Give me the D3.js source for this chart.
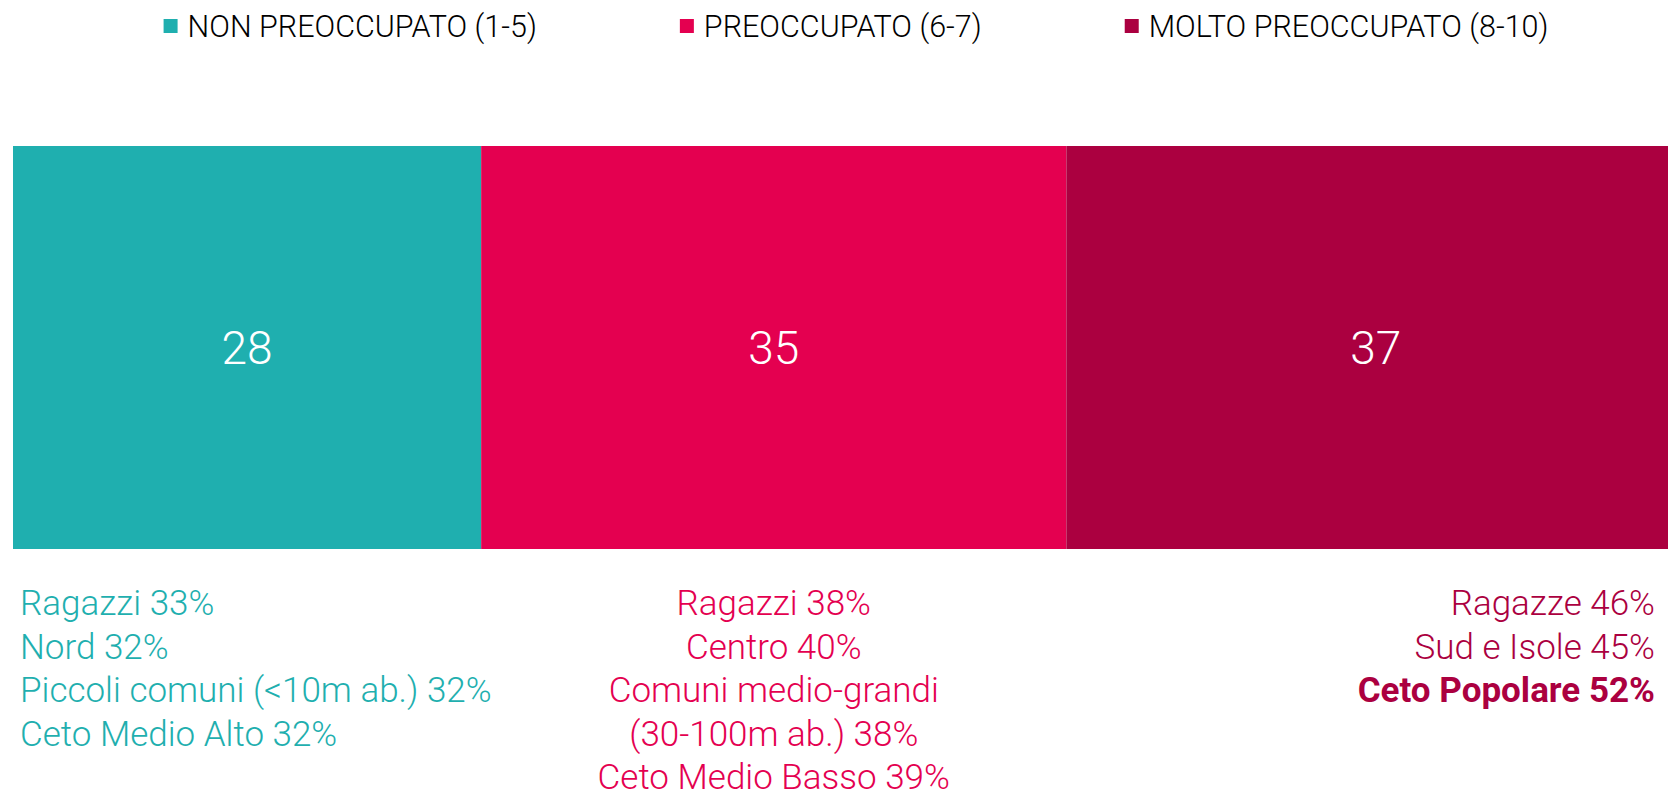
<!DOCTYPE html>
<html>
<head>
<meta charset="utf-8">
<script src="https://cdn.jsdelivr.net/npm/d3@7"></script>
<style>
  html, body { margin: 0; padding: 0; background: #fff; }
  svg { display: block; font-family: Roboto, "Noto Sans", sans-serif; }
</style>
</head>
<body>
<svg id="chart"></svg>
<script>
let width = 1668, height = 797;

// data
var categories = ["NON PREOCCUPATO (1-5)", "PREOCCUPATO (6-7)", "MOLTO PREOCCUPATO (8-10)"];
var values = [28, 35, 37];
var colors = ["#1fafaf", "#e40050", "#ab0040"];

var notesNon = ["Ragazzi 33%", "Nord 32%", "Piccoli comuni (<10m ab.) 32%", "Ceto Medio Alto 32%"];
var notesPre = ["Ragazzi 38%", "Centro 40%", "Comuni medio-grandi", "(30-100m ab.) 38%", "Ceto Medio Basso 39%"];
var notesMolto = ["Ragazze 46%", "Sud e Isole 45%", "Ceto Popolare 52%"];
var boldNotes = ["Ceto Popolare 52%"];

let svg = d3.select("#chart")
  .attr("width", width)
  .attr("height", height);

// stacked segments: bar runs a bit past the right edge
var x = d3.scaleLinear().domain([0, 100]).range([13, 1685]);
var barTop = 146, barBottom = 549;

var stack = [];
var acc = 0;
values.forEach((v, i) => {
  stack.push({cat: categories[i], value: v, x0: acc, x1: acc + v, color: colors[i]});
  acc += v;
});

svg.append("g")
  .selectAll("rect")
  .data(stack)
  .join("rect")
  .attr("x", d => x(d.x0))
  .attr("y", barTop)
  .attr("width", d => x(d.x1) - x(d.x0))
  .attr("height", barBottom - barTop)
  .attr("fill", d => d.color);

svg.append("g")
  .selectAll("text")
  .data(stack)
  .join("text")
  .attr("x", d => (x(d.x0) + x(d.x1)) / 2)
  .attr("y", (barTop + barBottom) / 2)
  .attr("dy", "0.36em")
  .attr("text-anchor", "middle")
  .attr("fill", "#fff")
  .attr("font-size", 46)
  .attr("font-weight", 300)
  .text(d => d.value);

// legend, centred above the bar
var legend = svg.append("g");
var items = legend.selectAll("g")
  .data(stack)
  .join("g");
items.append("rect")
  .attr("x", 0)
  .attr("y", 19)
  .attr("width", 14)
  .attr("height", 14)
  .attr("fill", d => d.color);
items.append("text")
  .attr("x", 24)
  .attr("y", 37)
  .attr("font-size", 30.5)
  .attr("font-weight", 300)
  .attr("fill", "#000")
  .text(d => d.cat);

var gap = 143, pos = 0, starts = [];
items.each(function () {
  starts.push(pos);
  pos += 24 + d3.select(this).select("text").node().getComputedTextLength() + gap;
});
var total = pos - gap;
var left = 856 - total / 2;
items.attr("transform", (d, i) => `translate(${left + starts[i]},0)`);

// notes under each segment
var lineGap = 43.6, firstBase = 615;
function notes(list, xpos, anchor, color) {
  svg.append("g")
    .selectAll("text")
    .data(list)
    .join("text")
    .attr("x", xpos)
    .attr("y", (d, i) => firstBase + i * lineGap)
    .attr("text-anchor", anchor)
    .attr("fill", color)
    .attr("font-size", 35)
    .attr("font-weight", d => boldNotes.includes(d) ? 700 : 300)
    .text(d => d);
}
notes(notesNon, 20, "start", colors[0]);
notes(notesPre, (x(stack[1].x0) + x(stack[1].x1)) / 2, "middle", colors[1]);
notes(notesMolto, width - 13, "end", colors[2]);
</script>
</body>
</html>
